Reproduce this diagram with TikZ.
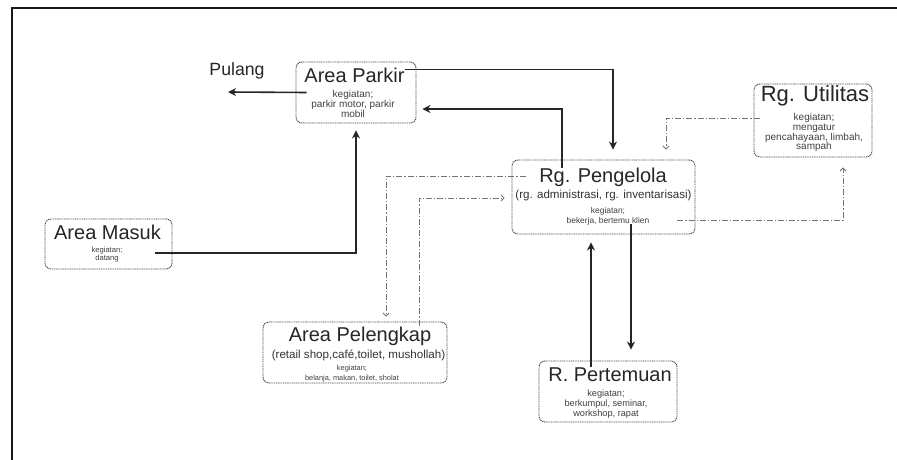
\documentclass[tikz,border=0pt]{standalone}
\usepackage{fontspec}
\setmainfont{Liberation Sans}
\usetikzlibrary{arrows.meta,positioning}

\tikzset{
	ruang/.style={draw=black!70, line width=0.9pt, dash pattern=on 1.1pt off 0.7pt, rounded corners=6pt, fill=white},
	judul/.style={anchor=base, inner sep=0pt, text=black!85, font=\fontsize{20}{22}\selectfont},
	subjudul/.style={anchor=base, inner sep=0pt, text=black!80, font=\fontsize{11.6}{13}\selectfont},
	ket/.style={anchor=north, inner sep=0pt, align=center, text=black!75},
	alur/.style={draw=black!85, line width=1.6pt, -{Stealth[length=8pt,width=8pt]}},
	alurtitik/.style={draw=black!55, line width=0.9pt, dash pattern=on 6pt off 2pt on 1.2pt off 2pt, -{Straight Barb[length=3pt,width=6pt]}}
}

\begin{document}
\begin{tikzpicture}[x=1pt, y=-1pt]

	\useasboundingbox (0,0) rectangle (897,460);

	% BINGKAI
	\draw[line width=2.5pt, black!90] (12,460) -- (12,8) -- (897,8);

	% RUANG
	\node[ruang, minimum width=120pt, minimum height=61pt] (parkir) at (356,92.5) {};
	\node[ruang, minimum width=118pt, minimum height=73pt] (utilitas) at (813,120.5) {};
	\node[ruang, minimum width=183pt, minimum height=74pt] (pengelola) at (603.5,197) {};
	\node[ruang, minimum width=127pt, minimum height=50pt] (masuk) at (108.5,244) {};
	\node[ruang, minimum width=184pt, minimum height=61pt] (pelengkap) at (355,352.5) {};
	\node[ruang, minimum width=138pt, minimum height=61pt] (pertemuan) at (608,391.5) {};

	\node[judul] (parkirJ) at ([shift={(-1.5,21)}]parkir.north) {Area Parkir};
	\node[ket, font=\fontsize{10}{10}\selectfont] (parkirK) at ([shift={(-3,28.7)}]parkir.north) {kegiatan;\\parkir motor, parkir\\mobil};

	\node[judul, font=\fontsize{22}{24}\selectfont] (utilitasJ) at ([shift={(2,18)}]utilitas.north) {Rg. Utilitas};
	\node[ket, font=\fontsize{10}{9.8}\selectfont] (utilitasK) at ([shift={(1,29.5)}]utilitas.north) {kegiatan;\\mengatur\\pencahayaan, limbah,\\sampah};

	\node[judul] (pengelolaJ) at ([shift={(-0.5,23)}]pengelola.north) {Rg. Pengelola};
	\node[subjudul] (pengelolaS) at ([shift={(0,39)}]pengelola.north) {(rg. administrasi, rg. inventarisasi)};
	\node[ket, font=\fontsize{8.4}{10.5}\selectfont] (pengelolaK) at ([shift={(4.5,47.2)}]pengelola.north) {kegiatan;\\bekerja, bertemu klien};

	\node[judul] (masukJ) at ([shift={(-1,21)}]masuk.north) {Area Masuk};
	\node[ket, font=\fontsize{7.6}{8}\selectfont] (masukK) at ([shift={(-1.5,28.5)}]masuk.north) {kegiatan;\\datang};

	\node[judul] (pelengkapJ) at ([shift={(5,20)}]pelengkap.north) {Area Pelengkap};
	\node[subjudul] (pelengkapS) at ([shift={(3.5,37)}]pelengkap.north) {(retail shop,café,toilet, mushollah)};
	\node[ket, font=\fontsize{7.4}{10}\selectfont] (pelengkapK) at ([shift={(-3,43.6)}]pelengkap.north) {kegiatan;\\belanja, makan, toilet, sholat};

	\node[judul] (pertemuanJ) at ([shift={(2,21)}]pertemuan.north) {R. Pertemuan};
	\node[ket, font=\fontsize{9.2}{10}\selectfont] (pertemuanK) at ([shift={(-2,29.5)}]pertemuan.north) {kegiatan;\\berkumpul, seminar,\\workshop, rapat};

	\node[judul, font=\fontsize{17.7}{20}\selectfont] (pulang) at (237,75) {Pulang};
	\coordinate (pulangujung) at (228,92);

	% ALUR UTAMA
	\draw[alur] ([xshift=11pt]parkir.west) -- (pulangujung);
	\draw[alur] ([shift={(-11,8)}]parkir.north east) -| ([shift={(9.5,-10)}]pengelola.north);
	\draw[alur] ([shift={(-41.5,8)}]pengelola.north) |- ([shift={(6,16.5)}]parkir.east);
	\draw[alur] ([shift={(-17,9)}]masuk.east) -| ([yshift=-7pt]parkir.south);
	\draw[alur] ([shift={(27.5,-10)}]pengelola.south) -- ([shift={(23,-11)}]pertemuan.north);
	\draw[alur] ([shift={(-17,6)}]pertemuan.north) -- ([shift={(-12.5,8)}]pengelola.south);

	% ALUR PENUNJANG
	\draw[alurtitik] ([shift={(14,-21)}]pengelola.west) -| ([shift={(31,-5)}]pelengkap.north);
	\draw[alurtitik] ([shift={(64,4)}]pelengkap.north) |- ([shift={(-7,1)}]pengelola.west);
	\draw[alurtitik] ([shift={(-18,23)}]pengelola.east) -| ([shift={(30,10)}]utilitas.south);
	\draw[alurtitik] ([shift={(6,-2.5)}]utilitas.west) -| ([shift={(62.5,-10)}]pengelola.north);

\end{tikzpicture}
\end{document}
